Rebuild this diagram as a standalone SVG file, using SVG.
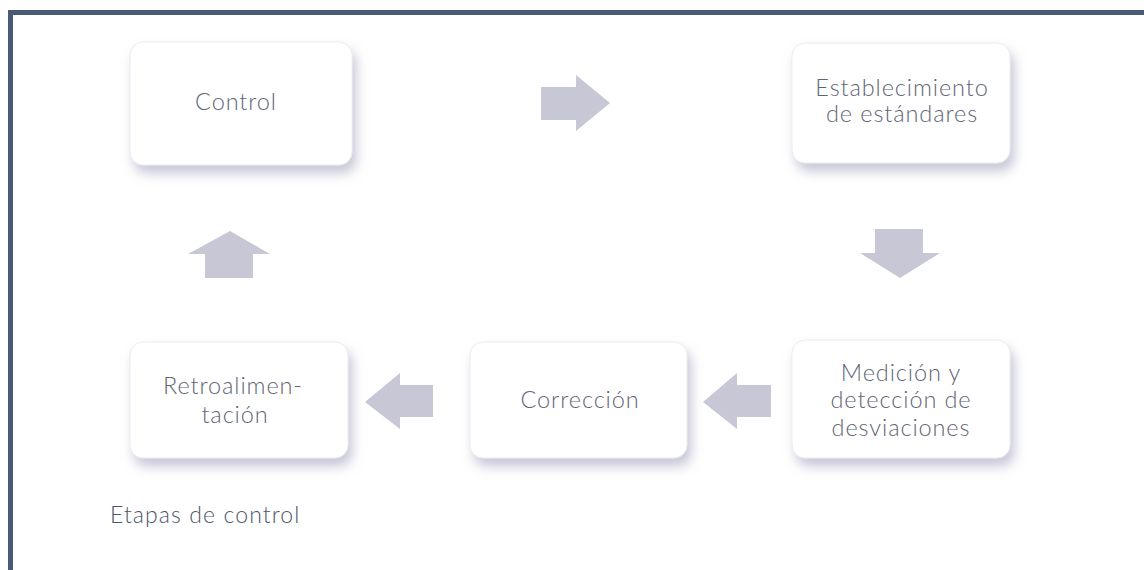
<svg xmlns="http://www.w3.org/2000/svg" width="1144" height="570" viewBox="0 0 1144 570">
<style>
.box{fill:#ffffff;stroke:#ebebf0;stroke-width:1;filter:url(#sh)}
.lbl{font-family:Lato,"Open Sans","Liberation Sans",sans-serif;font-weight:300;font-size:23.5px;letter-spacing:0.9px;fill:#5f6577;text-anchor:middle}
.arr{fill:#c7c7d5}
.cap{font-family:Lato,"Open Sans","Liberation Sans",sans-serif;font-weight:300;font-size:23px;letter-spacing:1.1px;fill:#4c5567}
</style>
<defs>
<filter id="sh" x="-20%" y="-20%" width="150%" height="160%">
<feDropShadow dx="4" dy="8" stdDeviation="6" flood-color="#9a9ab8" flood-opacity="0.55"/>
</filter>
</defs>
<rect x="0" y="0" width="1144" height="570" fill="#ffffff"/>
<rect x="8" y="10" width="1136" height="5" fill="#4a5a75"/>
<rect x="8" y="10" width="5" height="560" fill="#4a5a75"/>
<g id="node-control">
<rect class="box" x="130" y="42" width="222" height="123" rx="13"/>
<text class="lbl" x="236" y="110">Control</text>
</g>
<g id="node-establecimiento">
<rect class="box" x="792" y="43" width="218" height="120" rx="13"/>
<text class="lbl" x="902" y="96">Establecimiento</text>
<text class="lbl" x="902" y="122">de estándares</text>
</g>
<g id="node-medicion">
<rect class="box" x="792" y="340" width="218" height="118" rx="13"/>
<text class="lbl" x="901" y="381">Medición y</text>
<text class="lbl" x="901" y="408">detección de</text>
<text class="lbl" x="901" y="436">desviaciones</text>
</g>
<g id="node-correccion">
<rect class="box" x="470" y="342" width="217" height="116" rx="13"/>
<text class="lbl" x="580" y="408">Corrección</text>
</g>
<g id="node-retroalimentacion">
<rect class="box" x="130" y="342" width="218" height="116" rx="13"/>
<text class="lbl" x="233" y="394">Retroalimen-</text>
<text class="lbl" x="235" y="423">tación</text>
</g>
<g id="connectors">
<polygon class="arr" points="541,87 576,87 576,75 610,103 576,131 576,120 541,120"/>
<polygon class="arr" points="875,229 923,229 923,253 940,253 900,278 860,253 875,253"/>
<polygon class="arr" points="771,385 737,385 737,373 703,402 737,429 737,417 771,417"/>
<polygon class="arr" points="433,385 400,385 400,373 365,402 400,429 400,417 433,417"/>
<polygon class="arr" points="205,278 253,278 253,254 270,254 230,231 188,254 205,254"/>
</g>
<text class="cap" x="110" y="523">Etapas de control</text>
</svg>
